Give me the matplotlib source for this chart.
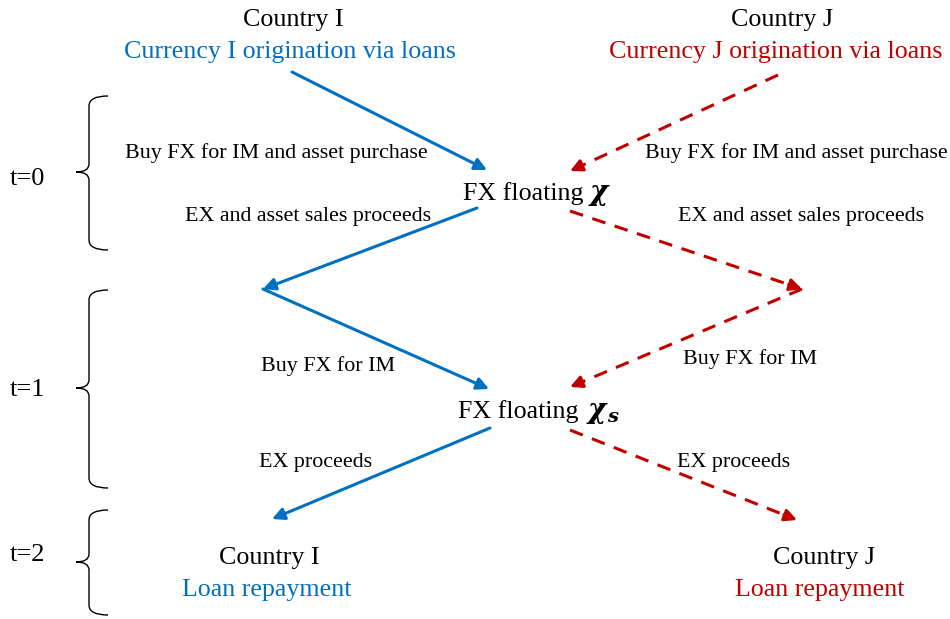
import matplotlib
matplotlib.use('Agg')
import matplotlib.pyplot as plt
from matplotlib.path import Path
from matplotlib.patches import PathPatch

BLUE = '#0070C0'
RED = '#C00000'
SERIF = 'Liberation Serif'

# time periods: label, brace top, tip, bottom
periods = ['t=0', 't=1', 't=2']
period_y = [176, 387, 552]
brace_top = [96, 290, 510]
brace_tip = [172, 388, 562]
brace_bot = [250, 488, 615]

# arrows: (x0, y0, x1, y1)
blue_arrows = [(292, 72, 487, 170), (477, 208, 263, 289),
               (263, 289, 489, 389), (490, 428, 272, 519)]
red_arrows = [(778, 75, 570, 171), (570, 211, 802, 289),
              (802, 289, 570, 387), (570, 430, 797, 520)]

# flow labels: text, x center, y center
flow_labels = [('Buy FX for IM and asset purchase', 276, 150),
               ('EX and asset sales proceeds', 308, 213),
               ('Buy FX for IM and asset purchase', 796, 150),
               ('EX and asset sales proceeds', 801, 214),
               ('Buy FX for IM', 328, 363),
               ('Buy FX for IM', 750, 356),
               ('EX proceeds', 316, 459),
               ('EX proceeds', 734, 459)]

DY = 3  # va='center' sits a little high for this font

fig = plt.figure(figsize=(9.5, 6.19), dpi=100)
ax = fig.add_axes([0, 0, 1, 1])
ax.set_xlim(0, 950)
ax.set_ylim(619, 0)
ax.axis('off')

# braces
for lab, ly, t, m, b in zip(periods, period_y, brace_top, brace_tip, brace_bot):
    xs, xe, xt = 89, 108, 76
    verts = [(xe, t), (xs, t), (xs, t + 10),
             (xs, m - 8),
             (xs, m), (xt, m),
             (xs, m), (xs, m + 8),
             (xs, b - 10),
             (xs, b), (xe, b)]
    codes = [Path.MOVETO, Path.CURVE3, Path.CURVE3,
             Path.LINETO,
             Path.CURVE3, Path.CURVE3,
             Path.CURVE3, Path.CURVE3,
             Path.LINETO,
             Path.CURVE3, Path.CURVE3]
    ax.add_patch(PathPatch(Path(verts, codes), fill=False, lw=1.0, ec='black'))
    ax.text(27, ly + DY, lab, ha='center', va='center', fontsize=19, family=SERIF)

# blue solid arrows
for x0, y0, x1, y1 in blue_arrows:
    ax.annotate('', xy=(x1, y1), xytext=(x0, y0),
                arrowprops=dict(arrowstyle='-|>', color=BLUE, lw=2.2,
                                mutation_scale=18, shrinkA=0, shrinkB=0))

# red dashed arrows: dashed shaft + solid head
for x0, y0, x1, y1 in red_arrows:
    dx, dy = x1 - x0, y1 - y0
    L = (dx ** 2 + dy ** 2) ** 0.5
    ux, uy = dx / L, dy / L
    ax.plot([x0, x1 - 10 * ux], [y0, y1 - 10 * uy], color=RED, lw=2.2,
            dashes=(4.5, 3.2), solid_capstyle='butt')
    ax.annotate('', xy=(x1, y1), xytext=(x1 - 14 * ux, y1 - 14 * uy),
                arrowprops=dict(arrowstyle='-|>', color=RED, lw=2.2,
                                mutation_scale=18, shrinkA=0, shrinkB=0))

# node texts
ax.text(293, 17 + DY, 'Country I', ha='center', va='center', fontsize=18.7, family=SERIF)
ax.text(290, 49 + DY, 'Currency I origination via loans', ha='center', va='center',
        fontsize=18.7, family=SERIF, color=BLUE)
ax.text(782, 17 + DY, 'Country J', ha='center', va='center', fontsize=18.7, family=SERIF)
ax.text(776, 49 + DY, 'Currency J origination via loans', ha='center', va='center',
        fontsize=18.7, family=SERIF, color=RED)

ax.text(463, 191 + DY, 'FX floating', ha='left', va='center', fontsize=18.7, family=SERIF)
ax.text(590, 192, 'χ', ha='left', va='center', fontsize=20, family='DejaVu Serif',
        weight='bold', style='italic')
ax.text(458, 409 + DY, 'FX floating', ha='left', va='center', fontsize=18.7, family=SERIF)
ax.text(588, 410, 'χ', ha='left', va='center', fontsize=20, family='DejaVu Serif',
        weight='bold', style='italic')
ax.text(607, 417, 's', ha='left', va='center', fontsize=14, family='DejaVu Serif',
        weight='bold', style='italic')

ax.text(269, 555 + DY, 'Country I', ha='center', va='center', fontsize=18.7, family=SERIF)
ax.text(267, 587 + DY, 'Loan repayment', ha='center', va='center', fontsize=18.7,
        family=SERIF, color=BLUE)
ax.text(824, 555 + DY, 'Country J', ha='center', va='center', fontsize=18.7, family=SERIF)
ax.text(820, 587 + DY, 'Loan repayment', ha='center', va='center', fontsize=18.7,
        family=SERIF, color=RED)

for txt, x, y in flow_labels:
    ax.text(x, y + DY, txt, ha='center', va='center', fontsize=15.8, family=SERIF)

fig.savefig('out.png', dpi=100)
plt.close(fig)
